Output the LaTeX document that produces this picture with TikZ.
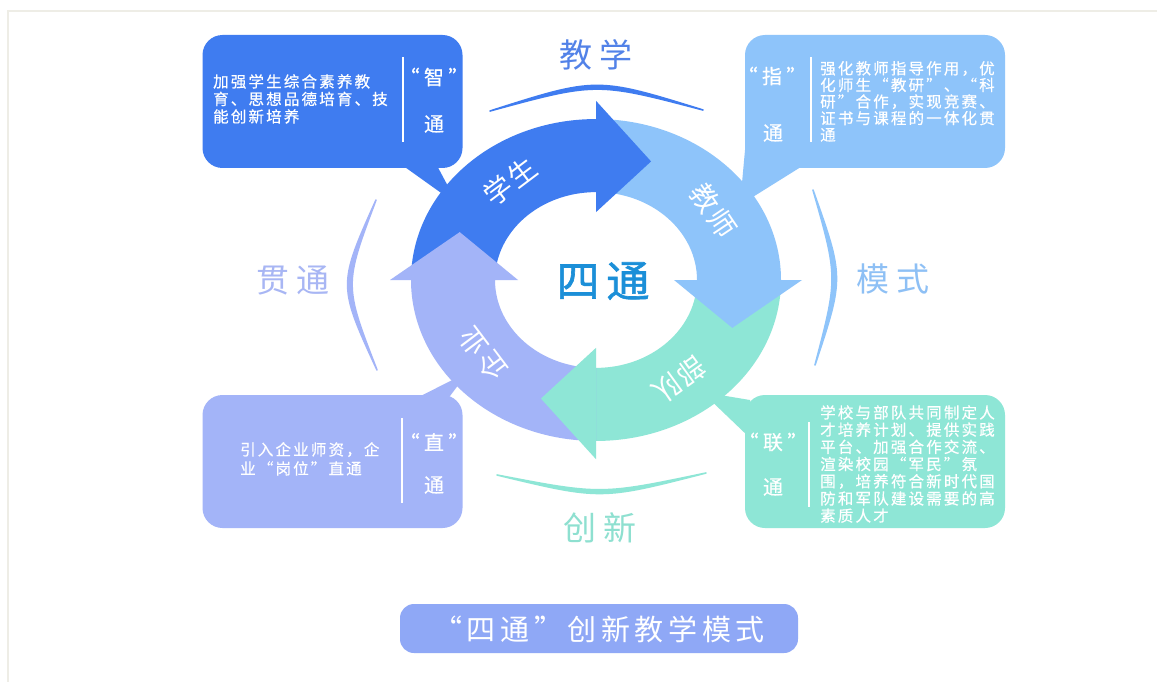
\documentclass[tikz,border=0pt]{standalone}
\usepackage{fontspec}
\newfontfamily\cjk[RawFeature=+fwid]{Noto Sans CJK SC}
\newfontfamily\cjkls[LetterSpace=14,FakeBold=0.6,RawFeature=+fwid]{Noto Sans CJK SC}
\newfontfamily\cjkq[LetterSpace=22,FakeBold=0.6,RawFeature=+fwid]{Noto Sans CJK SC}
\newfontfamily\cjkring[LetterSpace=8,RawFeature=+fwid]{Noto Sans CJK SC}
\newfontfamily\cjkmid[LetterSpace=16,RawFeature=+fwid]{Noto Sans CJK SC}
\newfontfamily\cjkcenter[LetterSpace=16,FakeBold=1.5,RawFeature=+fwid]{Noto Sans CJK SC}
\newfontfamily\cjkbig[LetterSpace=20,RawFeature=+fwid]{Noto Sans CJK SC}
\definecolor{cA}{HTML}{3F7CF0}
\definecolor{cB}{HTML}{8EC4FA}
\definecolor{cC}{HTML}{8EE6D6}
\definecolor{cD}{HTML}{A3B4F8}
\definecolor{titlec}{HTML}{8FA8F6}
\definecolor{centerc}{HTML}{1B8FD8}
\definecolor{framec}{HTML}{EEEDE6}
\definecolor{tA}{HTML}{5282E8}
\definecolor{tB}{HTML}{8EC0F5}
\definecolor{tC}{HTML}{8EE0D0}
\definecolor{tD}{HTML}{A8B6F4}
\tikzset{
  callbox/.style={rounded corners=20pt, inner sep=0pt, minimum width=260pt, minimum height=133pt},
  bodytext/.style={font=\cjkls\fontsize{15.5}{17.5}\selectfont, text=white, align=left, inner sep=0pt, anchor=north west},
  quotetext/.style={font=\cjkq\fontsize{20}{20}\selectfont, text=white, inner sep=0pt},
  sepline/.style={draw=white, line width=2.5pt},
  ringlabel/.style={font=\cjkring\fontsize{28}{28}\selectfont, text=white, inner sep=0pt},
  outerlabel/.style={font=\cjkbig\fontsize{33}{33}\selectfont, inner sep=0pt},
  outerarc/.style={line width=1.6pt, line join=round}
}
\begin{document}
\begin{tikzpicture}[x=1pt,y=1pt]
\useasboundingbox (0,0) rectangle (1157,-682);
\fill[white] (0,0) rectangle (1157,-682);
\draw[framec, line width=2pt] (8,-682) -- (8,-11) -- (1157,-11);

% tails
\fill[cA] (395,-160) -- (434,-160) -- (458,-205) -- cycle;
\fill[cB] (745,-150) -- (812,-160) -- (740,-205) -- cycle;
\fill[cD] (403,-405) -- (447,-400) -- (468,-372) -- cycle;
\fill[cC] (750,-400) -- (750,-438) -- (702,-392) -- cycle;

% call-out boxes
\node[callbox, fill=cA] (tlbox) at (332.5,-101.5) {};
\node[callbox, fill=cB] (trbox) at (875,-101.5) {};
\node[callbox, fill=cD] (blbox) at (332.5,-461.5) {};
\node[callbox, fill=cC] (brbox) at (875,-461.5) {};

% separators
\draw[sepline] (403,-57) -- (403,-142);
\draw[sepline] (811,-57) -- (811,-142);
\draw[sepline] (402,-418) -- (402,-503);
\draw[sepline] (809,-422) -- (809,-507);

% box texts
\node[bodytext] (tltext) at (213,-74) {加强学生综合素养教\\育、思想品德培育、技\\能创新培养};
\node[quotetext] (tlq) at (434,-77) {“智”};
\node[quotetext] (tlt) at (434,-124) {通};

\node[bodytext, font=\cjkls\fontsize{15.5}{16.6}\selectfont] (trtext) at (820,-61) {强化教师指导作用，优\\化师生“教研”、“科\\研”合作，实现竞赛、\\证书与课程的一体化贯\\通};
\node[quotetext] (trq) at (772,-76) {“指”};
\node[quotetext] (trt) at (773,-133) {通};

\node[bodytext, font=\cjkls\fontsize{15.5}{19}\selectfont] (bltext) at (240,-442) {引入企业师资，企\\业“岗位”直通};
\node[quotetext] (blq) at (434,-442) {“直”};
\node[quotetext] (blt) at (434,-485) {通};

\node[bodytext, font=\cjkls\fontsize{15.5}{17.2}\selectfont] (brtext) at (820,-405) {学校与部队共同制定人\\才培养计划、提供实践\\平台、加强合作交流、\\渲染校园“军民”氛\\围，培养符合新时代国\\防和军队建设需要的高\\素质人才};
\node[quotetext] (brq) at (773,-442) {“联”};
\node[quotetext] (brt) at (773,-487) {通};

% outer arcs
\filldraw[cA, outerarc] (490,-111) .. controls (596.5,-77) .. (703,-110) .. controls (596.5,-82) .. (490,-111) -- cycle;
\filldraw[cB, outerarc] (813,-190) .. controls (844,-277.5) .. (815,-365) .. controls (838,-277.5) .. (813,-190) -- cycle;
\filldraw[cC, outerarc] (497,-475) .. controls (601,-500) .. (706,-473) .. controls (601,-495) .. (497,-475) -- cycle;
\filldraw[cD, outerarc] (376,-200) .. controls (338,-285) .. (377,-370) .. controls (344,-285) .. (376,-200) -- cycle;

\node[outerlabel, text=tA] (lteach) at (596,-55) {教学};
\node[outerlabel, text=tB] (lmode) at (893,-279) {模式};
\node[outerlabel, text=tC] (linnov) at (600,-528) {创新};
\node[outerlabel, text=tD] (lthru) at (293,-281) {贯通};

% ring
\begin{scope}[shift={(596,-280)}, yscale=0.87]
  \foreach \b/\c in {90/cA, 0/cB, -90/cC, 180/cD} {
    \pgfmathsetmacro\s{\b+90}
    \fill[\c] (\s:101) arc[start angle=\s, end angle=\b, radius=101] -- (\b:185) arc[start angle=\b, end angle=\s, radius=185] -- cycle;
  }
  \foreach \b/\c in {90/cA, 0/cB, -90/cC, 180/cD} {
    \pgfmathsetmacro\t{\b-22}
    \fill[\c] (\b:78) -- (\b:206) -- (\t:147) -- cycle;
  }
  \node[ringlabel, rotate=37] (xuesheng) at (127:142) {学生};
  \node[ringlabel, rotate=-56] (jiaoshi) at (34:142) {教师};
  \node[ringlabel, rotate=-144] (budui) at (-54:142) {部队};
  \node[ringlabel, rotate=127] (qiye) at (217:142) {企业};
\end{scope}

\node[font=\cjkcenter\fontsize{43}{43}\selectfont, text=centerc, inner sep=0pt] (sitong) at (603,-281) {四通};

% title
\node[rounded corners=14pt, fill=titlec, minimum width=398pt, minimum height=49pt, inner sep=0pt] (titlebox) at (599,-628.5) {};
\node[font=\cjkmid\fontsize{29}{29}\selectfont, text=white, inner sep=0pt] (titletext) at (599,-629) {“四通”创新教学模式};
\end{tikzpicture}
\end{document}
